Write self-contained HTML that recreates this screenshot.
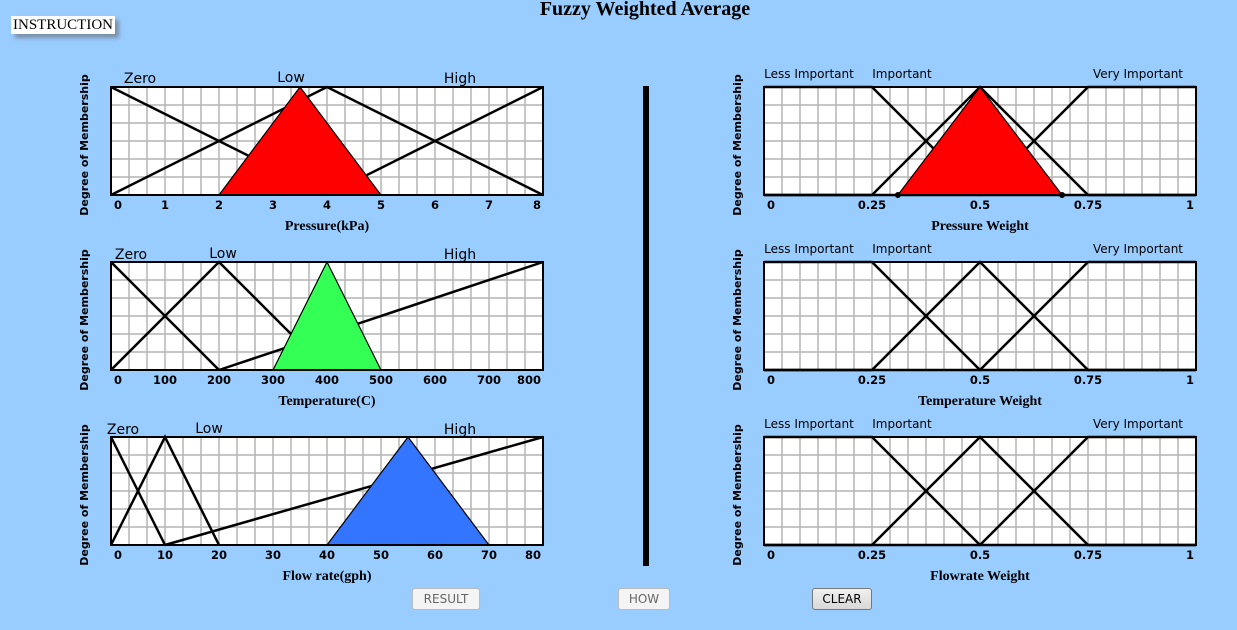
<!DOCTYPE html>
<html><head><meta charset="utf-8">
<style>
body{margin:0;width:1237px;height:630px;background:#99ccff;overflow:hidden;position:relative;font-family:"Liberation Serif",serif}
#title{position:absolute;left:0;width:1290px;top:-2px;text-align:center;font:bold 20px "Liberation Serif",serif;color:#000}
#instr{position:absolute;left:11px;top:16px;background:#fff;font:15px "Liberation Serif",serif;padding:0 2px;line-height:18px;box-shadow:4px 4px 4px #7a8fa8}
.btn{position:absolute;top:588px;height:20px;border:1px solid #bbb;border-radius:3px;background:#f4f4f4;font:12px "DejaVu Sans",sans-serif;color:#666;text-align:center;line-height:20px}
#divider{position:absolute;left:643px;top:86px;width:6px;height:480px;background:#000}
</style></head><body>
<div id="title">Fuzzy Weighted Average</div>
<div id="instr">INSTRUCTION</div>
<div id="divider"></div>
<div class="btn" style="left:412px;width:66px">RESULT</div>
<div class="btn" style="left:618px;width:50px">HOW</div>
<div class="btn" style="left:812px;width:58px;color:#000;border-color:#777;background:linear-gradient(#f0f0f0,#d8d8d8)">CLEAR</div>
<svg id="svg" width="1237" height="630" style="position:absolute;left:0;top:0"></svg>
<script>
const pressureTicks=[0,1,2,3,4,5,6,7,8];
const pressureZero=[[0,1],[4,0]];
const pressureLow=[[0,0],[4,1],[8,0]];
const pressureHigh=[[4,0],[8,1]];
const pressureInput=[[2,0],[3.5,1],[5,0]];
const tempTicks=[0,100,200,300,400,500,600,700,800];
const tempZero=[[0,1],[200,0]];
const tempLow=[[0,0],[200,1],[400,0]];
const tempHigh=[[200,0],[800,1]];
const tempInput=[[300,0],[400,1],[500,0]];
const flowTicks=[0,10,20,30,40,50,60,70,80];
const flowZero=[[0,1],[10,0]];
const flowLow=[[0,0],[10,1],[20,0]];
const flowHigh=[[10,0],[80,1]];
const flowInput=[[40,0],[55,1],[70,0]];
const weightTicks=[0,0.25,0.5,0.75,1];
const weightLess=[[0,1],[0.25,1],[0.5,0],[1,0]];
const weightImp=[[0,0],[0.25,0],[0.5,1],[0.75,0],[1,0]];
const weightVery=[[0,0],[0.5,0],[0.75,1],[1,1]];
const pressureWeightInput=[[0.31,0],[0.5,1],[0.69,0]];

const NS="http://www.w3.org/2000/svg";
const svg=document.getElementById('svg');
function mk(tag,attrs,parent){const e=document.createElementNS(NS,tag);for(const k in attrs)e.setAttribute(k,attrs[k]);(parent||svg).appendChild(e);return e;}
function chart(o){
  const W=432,H=108,x0=o.x,y0=o.y,min=o.ticks[0],max=o.ticks[o.ticks.length-1];
  const sx=v=>x0+(v-min)/(max-min)*W, sy=v=>y0+H-v*H;
  const g=mk('g',{});
  
  
  const bg=mk('rect',{x:x0,y:y0,width:W,height:H,fill:'#fff'},g);
  
  
  for(let i=1;i<24;i++)mk('line',{x1:x0+i*18,x2:x0+i*18,y1:y0,y2:y0+H,stroke:'#b4b4b4','stroke-width':1.5},g);
  for(let i=1;i<6;i++)mk('line',{x1:x0,x2:x0+W,y1:y0+i*18,y2:y0+i*18,stroke:'#b4b4b4','stroke-width':1.5},g);
  [o.a,o.b,o.c].forEach(s=>{const l=mk('polyline',{points:s.map(p=>sx(p[0])+','+sy(p[1])).join(' '),fill:'none',stroke:'#000','stroke-width':2.5},g);
    
    });
  if(o.input){const t=mk('polygon',{points:o.input.map(p=>sx(p[0])+','+sy(p[1])).join(' '),fill:o.color,stroke:'#000','stroke-width':1.2},g);
    
    
    if(o.dots){[o.input[0],o.input[2]].forEach(p=>mk('circle',{cx:sx(p[0]),cy:sy(p[1]),r:3,fill:'#000'},g));}}
  mk('rect',{x:x0,y:y0,width:W,height:H,fill:'none',stroke:'#000','stroke-width':2},g);
  o.ticks.forEach((v,i)=>{let x=sx(v),a='middle';if(i==0){x+=3;a='start'}if(i==o.ticks.length-1){x-=2;a='end'}
    const t=mk('text',{x:x,y:y0+H+14,'text-anchor':a,'font-family':'DejaVu Sans, sans-serif','font-size':11.5,'font-weight':'bold'},g);t.textContent=v;
    
    });
  const tt=mk('text',{x:x0+W/2,y:y0+H+35,'text-anchor':'middle','font-family':'Liberation Serif, serif','font-size':14,'font-weight':'bold'},g);tt.textContent=o.title;
  
  
  const yl=mk('text',{transform:`translate(${x0-23},${y0+H/2+4}) rotate(-90)`,'text-anchor':'middle','font-family':'DejaVu Sans, sans-serif','font-size':11,'font-weight':'bold'},g);yl.textContent='Degree of Membership';
  
  
  o.labels.forEach(l=>{const t=mk('text',{x:l[1],y:y0+l[2],'text-anchor':'middle','font-family':'DejaVu Sans, sans-serif','font-size':l[3]},g);t.textContent=l[0];
    
    });
}
chart({name:'pressure-chart',x:111,y:87,ticks:pressureTicks,a:pressureZero,b:pressureLow,c:pressureHigh,input:pressureInput,color:'#ff0000',title:'Pressure(kPa)',labels:[['Zero',140,-4,14],['Low',291,-5,14],['High',460,-4,14]]});
chart({name:'temperature-chart',x:111,y:262,ticks:tempTicks,a:tempZero,b:tempLow,c:tempHigh,input:tempInput,color:'#33ff55',title:'Temperature(C)',labels:[['Zero',131,-3,14],['Low',223,-4,14],['High',460,-3,14]]});
chart({name:'flow-chart',x:111,y:437,ticks:flowTicks,a:flowZero,b:flowLow,c:flowHigh,input:flowInput,color:'#3375ff',title:'Flow rate(gph)',labels:[['Zero',123,-3,14],['Low',209,-4,14],['High',460,-3,14]]});
const WL=[['Less Important',809,-9,12],['Important',902,-9,12],['Very Important',1138,-9,12]];
chart({name:'pressure-weight-chart',x:764,y:87,ticks:weightTicks,a:weightLess,b:weightImp,c:weightVery,input:pressureWeightInput,dots:true,color:'#ff0000',title:'Pressure Weight',labels:WL});
chart({name:'temperature-weight-chart',x:764,y:262,ticks:weightTicks,a:weightLess,b:weightImp,c:weightVery,title:'Temperature Weight',labels:WL});
chart({name:'flowrate-weight-chart',x:764,y:437,ticks:weightTicks,a:weightLess,b:weightImp,c:weightVery,title:'Flowrate Weight',labels:WL});
</script>
</body></html>
